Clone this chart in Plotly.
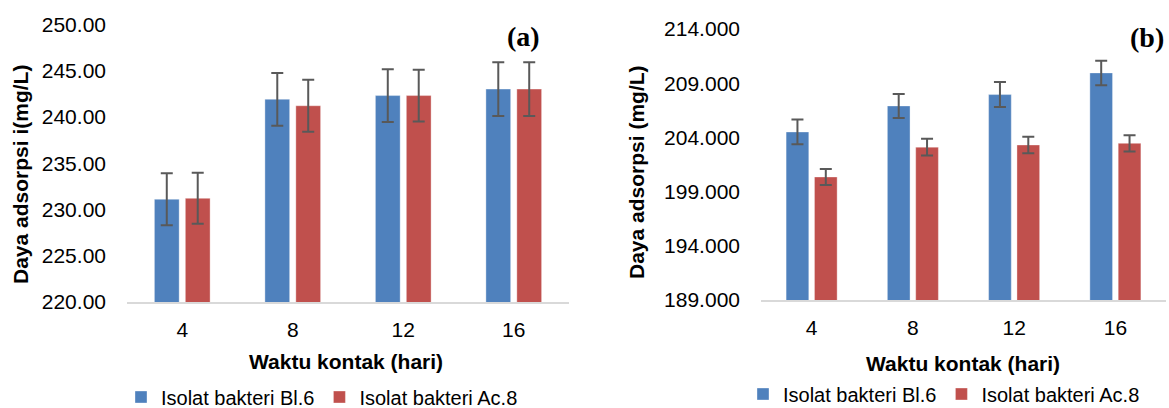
import plotly.graph_objects as go

W, H = 1169, 408

categories = ["4", "8", "12", "16"]

# Chart (a)
a_bl6 = [231.1, 241.9, 242.3, 243.0]
a_bl6_err = [2.8, 2.85, 2.85, 2.9]
a_ac8 = [231.2, 241.2, 242.3, 243.0]
a_ac8_err = [2.75, 2.8, 2.8, 2.9]
a_ticks = [220, 225, 230, 235, 240, 245, 250]
a_ticklabels = ["220.00", "225.00", "230.00", "235.00", "240.00", "245.00", "250.00"]

# Chart (b)
b_bl6 = [204.5, 206.9, 207.95, 209.95]
b_bl6_err = [1.14, 1.1, 1.15, 1.13]
b_ac8 = [200.35, 203.1, 203.3, 203.45]
b_ac8_err = [0.73, 0.77, 0.77, 0.74]
b_ticks = [189, 194, 199, 204, 209, 214]
b_ticklabels = ["189.000", "194.000", "199.000", "204.000", "209.000", "214.000"]

names = ["Isolat bakteri Bl.6", "Isolat bakteri Ac.8"]
colors = ["#4F81BD", "#C0504D"]
err_color = "#595959"
FONT = "Liberation Sans, Arial, sans-serif"

def px_x(p):
    return p / W

def px_y(p):
    return 1 - p / H

fig = go.Figure()

def err(vals):
    return dict(type="data", array=vals, visible=True, color=err_color,
                thickness=2, width=6)

bar_line = dict(color="rgba(255,255,255,0.35)", width=1)

fig.add_trace(go.Bar(x=categories, y=a_bl6, name=names[0],
                     marker=dict(color=colors[0], line=bar_line),
                     error_y=err(a_bl6_err), xaxis="x", yaxis="y", legend="legend"))
fig.add_trace(go.Bar(x=categories, y=a_ac8, name=names[1],
                     marker=dict(color=colors[1], line=bar_line),
                     error_y=err(a_ac8_err), xaxis="x", yaxis="y", legend="legend"))
fig.add_trace(go.Bar(x=categories, y=b_bl6, name=names[0],
                     marker=dict(color=colors[0], line=bar_line),
                     error_y=err(b_bl6_err), xaxis="x2", yaxis="y2", legend="legend2"))
fig.add_trace(go.Bar(x=categories, y=b_ac8, name=names[1],
                     marker=dict(color=colors[1], line=bar_line),
                     error_y=err(b_ac8_err), xaxis="x2", yaxis="y2", legend="legend2"))

tickfont = dict(family=FONT, size=21, color="#000000")
titlefont = dict(family=FONT, size=21, color="#000000")

xcommon = dict(showline=True, linecolor="#D9D9D9", linewidth=2, ticks="",
               tickfont=tickfont, showgrid=False, zeroline=False,
               ticklabelstandoff=8)
ycommon = dict(showline=False, showgrid=False, zeroline=False, ticks="",
               tickfont=tickfont, ticklabelstandoff=20)

fig.update_layout(
    width=W, height=H,
    margin=dict(l=0, r=0, t=0, b=0, autoexpand=False),
    paper_bgcolor="white", plot_bgcolor="white",
    barmode="group", bargap=0.44, bargroupgap=0.2,
    xaxis=dict(domain=[px_x(127), px_x(569)], anchor="y", **xcommon),
    yaxis=dict(domain=[px_y(302), px_y(24.3)], anchor="x", range=[220, 250],
               tickvals=a_ticks, ticktext=a_ticklabels, **ycommon),
    xaxis2=dict(domain=[px_x(761), px_x(1166)], anchor="y2", **xcommon),
    yaxis2=dict(domain=[px_y(300), px_y(29)], anchor="x2", range=[189, 214],
                tickvals=b_ticks, ticktext=b_ticklabels, **ycommon),
    legend=dict(orientation="h", x=px_x(121), y=px_y(397), xanchor="left", yanchor="middle",
                font=dict(family=FONT, size=20, color="#000000"),
                bgcolor="rgba(0,0,0,0)", itemwidth=30, tracegroupgap=0),
    legend2=dict(orientation="h", x=px_x(743), y=px_y(394), xanchor="left", yanchor="middle",
                 font=dict(family=FONT, size=20, color="#000000"),
                 bgcolor="rgba(0,0,0,0)", itemwidth=30, tracegroupgap=0),
    showlegend=True,
)

annotations = [
    dict(text="<b>Daya adsorpsi i(mg/L)</b>", x=px_x(20), y=px_y(175), textangle=-90,
         font=titlefont),
    dict(text="<b>Daya adsorpsi (mg/L)</b>", x=px_x(636), y=px_y(172), textangle=-90,
         font=titlefont),
    dict(text="<b>Waktu kontak (hari)</b>", x=px_x(346), y=px_y(361), font=titlefont),
    dict(text="<b>Waktu kontak (hari)</b>", x=px_x(963), y=px_y(363), font=titlefont),
    dict(text="<b>(a)</b>", x=px_x(523), y=px_y(36),
         font=dict(family="Liberation Serif, Times New Roman, serif", size=28, color="#000000")),
    dict(text="<b>(b)</b>", x=px_x(1147), y=px_y(37),
         font=dict(family="Liberation Serif, Times New Roman, serif", size=28, color="#000000")),
]
for a in annotations:
    a.update(xref="paper", yref="paper", showarrow=False, xanchor="center", yanchor="middle")
fig.update_layout(annotations=annotations)

fig.write_html(
    "out.html",
    config={"displayModeBar": False},
    post_script="document.body.style.margin='0';document.body.style.overflow='hidden';",
)
